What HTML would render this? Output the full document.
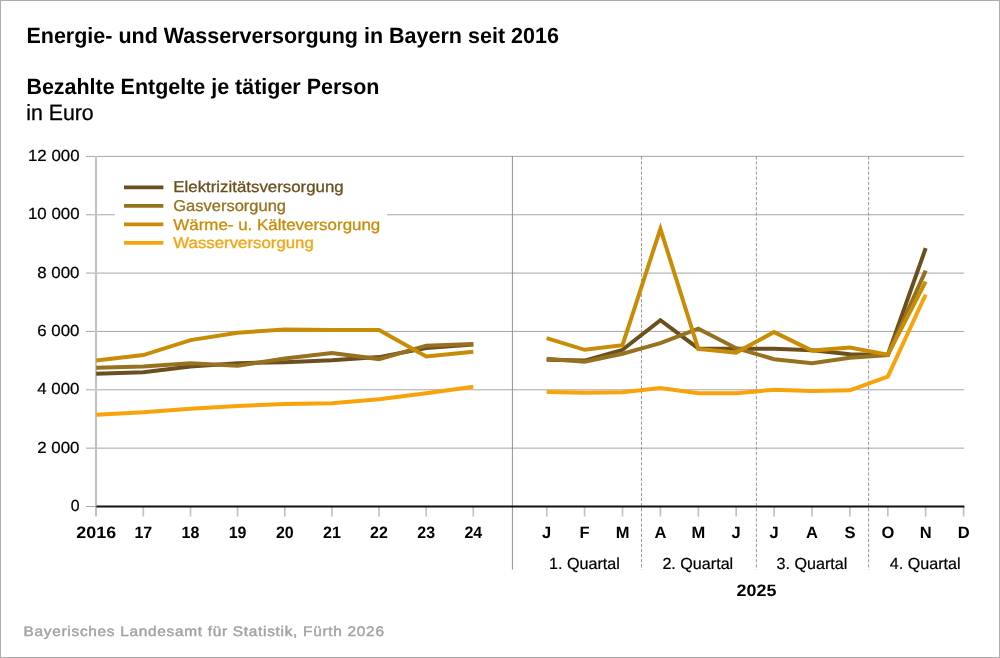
<!DOCTYPE html>
<html lang="de"><head><meta charset="utf-8"><title>Energie- und Wasserversorgung in Bayern seit 2016</title>
<style>html,body{margin:0;padding:0;background:#fff}body{width:1000px;height:658px;overflow:hidden}svg{display:block;will-change:transform}text{text-rendering:geometricPrecision;font-family:"Liberation Sans",Arial,sans-serif;fill:#000}.b{font-weight:bold}.t{font-size:22px}.s{font-size:16px}.x{font-size:16.5px}.l{font-size:15.6px}.r{stroke:#000;stroke-width:0.3px}.s.r,.q{stroke:#000;stroke-width:0.22px}.ser polyline{fill:none;stroke-width:4;stroke-linejoin:miter;stroke-miterlimit:10;stroke-linecap:butt}</style></head><body>
<svg width="1000" height="658" viewBox="0 0 1000 658">
<rect x="0.5" y="0.5" width="999" height="657" fill="#fff" stroke="#acacac" stroke-width="1"/>
<text class="b t" x="26.4" y="43.4" textLength="532.5" lengthAdjust="spacingAndGlyphs">Energie- und Wasserversorgung in Bayern seit 2016</text>
<text class="b t" x="26.4" y="93.6" textLength="353" lengthAdjust="spacingAndGlyphs">Bezahlte Entgelte je tätiger Person</text>
<text class="t r" x="26.2" y="119.6" textLength="67.5" lengthAdjust="spacingAndGlyphs">in Euro</text>
<line x1="86" x2="964.2" y1="448.15" y2="448.15" stroke="#9c9c9c" stroke-width="0.9"/>
<line x1="86" x2="964.2" y1="389.8" y2="389.8" stroke="#9c9c9c" stroke-width="0.9"/>
<line x1="86" x2="964.2" y1="331.45" y2="331.45" stroke="#9c9c9c" stroke-width="0.9"/>
<line x1="86" x2="964.2" y1="273.1" y2="273.1" stroke="#9c9c9c" stroke-width="0.9"/>
<line x1="86" x2="114.7" y1="214.75" y2="214.75" stroke="#9c9c9c" stroke-width="0.9"/>
<line x1="387" x2="964.2" y1="214.75" y2="214.75" stroke="#9c9c9c" stroke-width="0.9"/>
<line x1="86" x2="964.2" y1="156.4" y2="156.4" stroke="#9c9c9c" stroke-width="0.9"/>
<text class="s r" x="70.7" y="511.1" textLength="8.799999999999999" lengthAdjust="spacingAndGlyphs">0</text>
<text class="s r" x="37.3" y="452.8" textLength="42.2" lengthAdjust="spacingAndGlyphs">2 000</text>
<text class="s r" x="37.3" y="394.4" textLength="42.2" lengthAdjust="spacingAndGlyphs">4 000</text>
<text class="s r" x="37.3" y="336.1" textLength="42.2" lengthAdjust="spacingAndGlyphs">6 000</text>
<text class="s r" x="37.3" y="277.7" textLength="42.2" lengthAdjust="spacingAndGlyphs">8 000</text>
<text class="s r" x="28.0" y="219.3" textLength="51.5" lengthAdjust="spacingAndGlyphs">10 000</text>
<text class="s r" x="28.0" y="161.0" textLength="51.5" lengthAdjust="spacingAndGlyphs">12 000</text>
<line x1="96" x2="96" y1="156" y2="516.5" stroke="#c2c2c2" stroke-width="2.1"/>
<line x1="86" x2="96" y1="506.5" y2="506.5" stroke="#9c9c9c" stroke-width="0.9"/>
<line x1="143.3" x2="143.3" y1="506.5" y2="516.5" stroke="#c2c2c2" stroke-width="1.7"/>
<line x1="190.5" x2="190.5" y1="506.5" y2="516.5" stroke="#c2c2c2" stroke-width="1.7"/>
<line x1="237.6" x2="237.6" y1="506.5" y2="516.5" stroke="#c2c2c2" stroke-width="1.7"/>
<line x1="284.8" x2="284.8" y1="506.5" y2="516.5" stroke="#c2c2c2" stroke-width="1.7"/>
<line x1="331.9" x2="331.9" y1="506.5" y2="516.5" stroke="#c2c2c2" stroke-width="1.7"/>
<line x1="379.0" x2="379.0" y1="506.5" y2="516.5" stroke="#c2c2c2" stroke-width="1.7"/>
<line x1="426.2" x2="426.2" y1="506.5" y2="516.5" stroke="#c2c2c2" stroke-width="1.7"/>
<line x1="473.3" x2="473.3" y1="506.5" y2="516.5" stroke="#c2c2c2" stroke-width="1.7"/>
<line x1="546.7" x2="546.7" y1="506.5" y2="516.5" stroke="#c2c2c2" stroke-width="1.7"/>
<line x1="584.6" x2="584.6" y1="506.5" y2="516.5" stroke="#c2c2c2" stroke-width="1.7"/>
<line x1="622.5" x2="622.5" y1="506.5" y2="516.5" stroke="#c2c2c2" stroke-width="1.7"/>
<line x1="660.4" x2="660.4" y1="506.5" y2="516.5" stroke="#c2c2c2" stroke-width="1.7"/>
<line x1="698.3" x2="698.3" y1="506.5" y2="516.5" stroke="#c2c2c2" stroke-width="1.7"/>
<line x1="736.2" x2="736.2" y1="506.5" y2="516.5" stroke="#c2c2c2" stroke-width="1.7"/>
<line x1="774.1" x2="774.1" y1="506.5" y2="516.5" stroke="#c2c2c2" stroke-width="1.7"/>
<line x1="812.0" x2="812.0" y1="506.5" y2="516.5" stroke="#c2c2c2" stroke-width="1.7"/>
<line x1="849.9" x2="849.9" y1="506.5" y2="516.5" stroke="#c2c2c2" stroke-width="1.7"/>
<line x1="887.8" x2="887.8" y1="506.5" y2="516.5" stroke="#c2c2c2" stroke-width="1.7"/>
<line x1="925.7" x2="925.7" y1="506.5" y2="516.5" stroke="#c2c2c2" stroke-width="1.7"/>
<line x1="963.6" x2="963.6" y1="506.5" y2="516.5" stroke="#c2c2c2" stroke-width="1.7"/>
<line x1="512.4" x2="512.4" y1="156.2" y2="569.5" stroke="#858585" stroke-width="0.9"/>
<line x1="641.5" x2="641.5" y1="156.2" y2="569.8" stroke="#8e8e8e" stroke-width="0.9" stroke-dasharray="3.3 1.8"/>
<line x1="756.4" x2="756.4" y1="156.2" y2="569.8" stroke="#8e8e8e" stroke-width="0.9" stroke-dasharray="3.3 1.8"/>
<line x1="868.6" x2="868.6" y1="156.2" y2="569.8" stroke="#8e8e8e" stroke-width="0.9" stroke-dasharray="3.3 1.8"/>
<g class="ser">
<polyline points="96.2,373.8 143.3,372.2 190.5,366.6 237.6,363.2 284.8,362.2 331.9,360.2 379.0,357.1 426.2,348.1 473.3,344.5" stroke="#6b4f1e"/>
<polyline points="546.7,359.8 584.6,360.6 622.5,349.8 660.4,320.2 698.3,348.4 736.2,348.8 774.1,348.8 812.0,350.2 849.9,354.2 887.8,354.9 925.7,248.2" stroke="#6b4f1e"/>
<polyline points="96.2,367.8 143.3,366.6 190.5,363.2 237.6,365.8 284.8,358.4 331.9,353.1 379.0,359.1 426.2,345.7 473.3,344.1" stroke="#96711f"/>
<polyline points="546.7,358.8 584.6,361.8 622.5,353.8 660.4,343.2 698.3,328.6 736.2,348.2 774.1,359.2 812.0,363.2 849.9,357.8 887.8,355.0 925.7,270.6" stroke="#96711f"/>
<polyline points="96.2,360.5 143.3,355.1 190.5,340.1 237.6,332.7 284.8,329.5 331.9,330.1 379.0,330.1 426.2,356.5 473.3,351.7" stroke="#c98c06"/>
<polyline points="546.7,338.1 584.6,349.8 622.5,345.2 660.4,228.8 698.3,349.0 736.2,352.6 774.1,332.1 812.0,350.6 849.9,347.6 887.8,354.7 925.7,281.6" stroke="#c98c06"/>
<polyline points="96.2,414.7 143.3,412.3 190.5,408.7 237.6,405.9 284.8,404.1 331.9,403.3 379.0,399.3 426.2,393.2 473.3,386.8" stroke="#f8a30b"/>
<polyline points="546.7,391.9 584.6,392.7 622.5,392.3 660.4,387.9 698.3,393.3 736.2,393.3 774.1,389.7 812.0,390.9 849.9,390.3 887.8,376.7 925.7,294.5" stroke="#f8a30b"/>
</g>
<line x1="96.4" x2="964.4" y1="506.5" y2="506.5" stroke="#111" stroke-width="2"/>
<line x1="124" x2="163.4" y1="187.4" y2="187.4" stroke="#6b4f1e" stroke-width="3.8"/>
<text class="l" x="173.3" y="192.4" style="fill:#6b4f1e;stroke:#6b4f1e;stroke-width:0.3px" textLength="170.4" lengthAdjust="spacingAndGlyphs">Elektrizitätsversorgung</text>
<line x1="124" x2="163.4" y1="205.8" y2="205.8" stroke="#96711f" stroke-width="3.8"/>
<text class="l" x="173.3" y="211.0" style="fill:#96711f;stroke:#96711f;stroke-width:0.3px" textLength="112.7" lengthAdjust="spacingAndGlyphs">Gasversorgung</text>
<line x1="124" x2="163.4" y1="224.4" y2="224.4" stroke="#c98c06" stroke-width="3.8"/>
<text class="l" x="173.3" y="229.5" style="fill:#c98c06;stroke:#c98c06;stroke-width:0.3px" textLength="207" lengthAdjust="spacingAndGlyphs">Wärme- u. Kälteversorgung</text>
<line x1="124" x2="163.4" y1="242.9" y2="242.9" stroke="#f8a30b" stroke-width="3.8"/>
<text class="l" x="173.3" y="248.0" style="fill:#f8a30b;stroke:#f8a30b;stroke-width:0.3px" textLength="140.5" lengthAdjust="spacingAndGlyphs">Wasserversorgung</text>
<text class="b x" x="76.3" y="537.8" textLength="39.8" lengthAdjust="spacingAndGlyphs">2016</text>
<text class="b x" x="134.4" y="537.8" textLength="17.8" lengthAdjust="spacingAndGlyphs">17</text>
<text class="b x" x="181.6" y="537.8" textLength="17.8" lengthAdjust="spacingAndGlyphs">18</text>
<text class="b x" x="228.7" y="537.8" textLength="17.8" lengthAdjust="spacingAndGlyphs">19</text>
<text class="b x" x="275.9" y="537.8" textLength="17.8" lengthAdjust="spacingAndGlyphs">20</text>
<text class="b x" x="323.0" y="537.8" textLength="17.8" lengthAdjust="spacingAndGlyphs">21</text>
<text class="b x" x="370.1" y="537.8" textLength="17.8" lengthAdjust="spacingAndGlyphs">22</text>
<text class="b x" x="417.3" y="537.8" textLength="17.8" lengthAdjust="spacingAndGlyphs">23</text>
<text class="b x" x="464.4" y="537.8" textLength="17.8" lengthAdjust="spacingAndGlyphs">24</text>
<text class="b x" x="546.7" y="537.8" text-anchor="middle">J</text>
<text class="b x" x="584.6" y="537.8" text-anchor="middle">F</text>
<text class="b x" x="622.5" y="537.8" text-anchor="middle">M</text>
<text class="b x" x="660.4" y="537.8" text-anchor="middle">A</text>
<text class="b x" x="698.3" y="537.8" text-anchor="middle">M</text>
<text class="b x" x="736.2" y="537.8" text-anchor="middle">J</text>
<text class="b x" x="774.1" y="537.8" text-anchor="middle">J</text>
<text class="b x" x="812.0" y="537.8" text-anchor="middle">A</text>
<text class="b x" x="849.9" y="537.8" text-anchor="middle">S</text>
<text class="b x" x="887.8" y="537.8" text-anchor="middle">O</text>
<text class="b x" x="925.7" y="537.8" text-anchor="middle">N</text>
<text class="b x" x="963.6" y="537.8" text-anchor="middle">D</text>
<text class="s r" x="549.0" y="568.8" textLength="70.8" lengthAdjust="spacingAndGlyphs">1. Quartal</text>
<text class="s r" x="662.4" y="568.8" textLength="70.8" lengthAdjust="spacingAndGlyphs">2. Quartal</text>
<text class="s r" x="776.6" y="568.8" textLength="70.8" lengthAdjust="spacingAndGlyphs">3. Quartal</text>
<text class="s r" x="889.8" y="568.8" textLength="70.8" lengthAdjust="spacingAndGlyphs">4. Quartal</text>
<text class="b x" x="736.6" y="595.7" textLength="39.8" lengthAdjust="spacingAndGlyphs">2025</text>
<g transform="translate(23.6,635.8) scale(1.1,1)"><text x="0" y="0" style="font-size:14px;fill:#a3a3a3;stroke:#a3a3a3;stroke-width:0.45px" textLength="327.6" lengthAdjust="spacing">Bayerisches Landesamt für Statistik, Fürth 2026</text></g>
</svg></body></html>
